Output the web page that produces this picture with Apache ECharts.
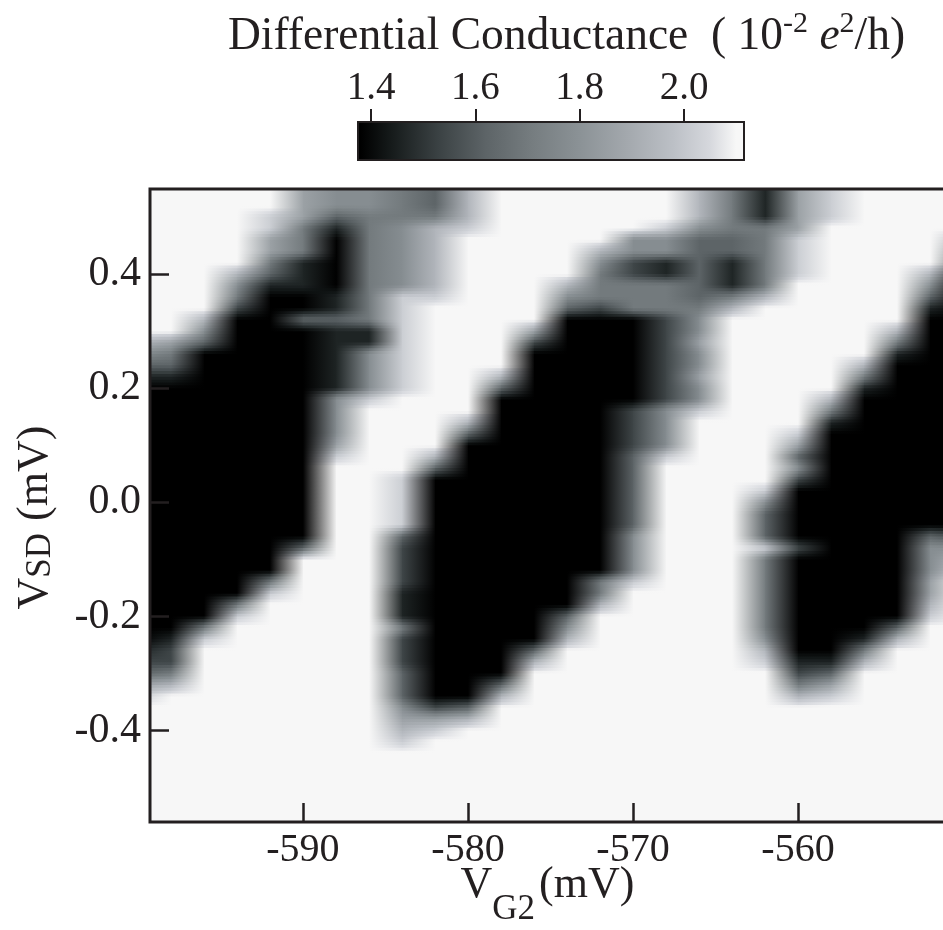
<!DOCTYPE html>
<html>
<head>
<meta charset="utf-8">
<script src="https://cdn.jsdelivr.net/npm/echarts@6/dist/echarts.min.js"></script>
<style>
html,body{margin:0;padding:0;background:#ffffff;}
#chart{width:943px;height:930px;}
</style>
</head>
<body>
<div id="chart"></div>
<script>
// ---- data ----
// gate voltage V_G2 (mV) of each measured column
const vgColumns = [-600,-598,-596,-594,-592,-590,-588,-586,-584,-582,-580,-578,-576,
                   -574,-572,-570,-568,-566,-564,-562,-560,-558,-556,-554,-552,-550];
// source-drain bias V_SD (mV) of each row, top to bottom
const vsdRows = [0.54,0.52,0.50,0.48,0.46,0.44,0.42,0.40,0.38,0.36,0.34,0.32,0.30,0.28,
                 0.26,0.24,0.22,0.20,0.18,0.16,0.14,0.12,0.10,0.08,0.06,0.04,0.02,0.00,
                 -0.02,-0.04,-0.06,-0.08,-0.10,-0.12,-0.14,-0.16,-0.18,-0.20,-0.22,-0.24,-0.26,-0.28,
                 -0.30,-0.32,-0.34,-0.36,-0.38,-0.40,-0.42,-0.44,-0.46,-0.48,-0.50,-0.52,-0.54,-0.56];
// conductance (10^-2 e^2/h) of each level digit 0..9
const levelValues = [1.38,1.46,1.54,1.62,1.70,1.78,1.86,1.94,2.02,2.11];
// one string per column (same order as vgColumns), one digit per row (same order as vsdRows)
const levelColumns = [
  "9999999999 9997531000 0000000000 0000000000 1236899999 999999", // -600
  "9999999999 9996431000 0000000000 0000000001 2247999999 999999", // -598
  "9999999999 9753000000 0000000000 0000000048 9999999999 999999", // -596
  "9999999754 2000000000 0000000000 0000004899 9999999999 999999", // -594
  "9988664310 0000000000 0000000000 0000489999 9999999999 999999", // -592
  "6664441110 0300000000 0000000000 0399999999 9999999999 999999", // -590
  "5531000001 1311111155 5568999999 9999999999 9999999999 999999", // -588
  "5544444444 4411555589 9999999999 9999999999 9999999999 999999", // -586
  "4445555558 8888888899 9999988888 3222211142 2233356789 999999", // -584
  "3347777778 9999999999 9997300000 0000000000 0000026899 999999", // -582
  "7778999999 9999999999 7300000000 0000000000 0000037999 999999", // -580
  "9999999999 9999997300 0000000000 0000000000 0003799999 999999", // -578
  "9999999999 9962000000 0000000000 0000000000 3799999999 999999", // -576
  "9999999975 3000000000 0000000000 0000000357 9999999999 999999", // -574
  "9999975444 2000000000 0000000000 0000447999 9999999999 999999", // -572
  "9999552244 4000000002 2223333333 5555899999 9999999999 999999", // -570
  "9998551144 4222222225 5558999999 9999999999 9999999999 999999", // -568
  "7775333333 4556556558 9999999999 9999999999 9999999999 999999", // -566
  "4444331114 7999999999 9999999999 9999999999 9999999999 999999", // -564
  "1114444447 9999999999 9999998533 3844444445 7899999999 999999", // -562
  "6666888899 9999999999 9863520000 0200000000 0124799999 999999", // -560
  "8889999999 9999999974 1000000000 0000000000 0136899999 999999", // -558
  "9999999999 9999974100 0000000000 0000000001 4799999999 999999", // -556
  "9999999999 9974100000 0000000000 0000000037 9999999999 999999", // -554
  "9999999753 1000000000 0000000000 3555667899 9999999999 999999", // -552
  "9999753100 0000000000 0000000000 2578999999 9999999999 999999"  // -550
];
const xTicks = [-590,-580,-570,-560];
const yTicks = [-0.4,-0.2,0.0,0.2,0.4];
const colorbarTicks = [1.4,1.6,1.8,2.0];
const colorbarRange = [1.375, 2.115];
// colour scale
const paletteValues = [1.38,1.44,1.53,1.62,1.71,1.80,1.89,1.98,2.05,2.10];
const paletteColors = ['#000000','#161b1b','#3b4244','#5d6467','#767d80','#8b9296','#a3a8ad','#bcc0c6','#d6d8dd','#f7f7f7'];

// ---- build ----
const FONT = "'Liberation Serif','Times New Roman',serif";
const INK = '#231f20';

function colorOf(g) {
  if (g <= paletteValues[0]) return paletteColors[0];
  for (let k = 1; k < paletteValues.length; k++) {
    if (g <= paletteValues[k]) {
      const t = (g - paletteValues[k-1]) / (paletteValues[k] - paletteValues[k-1]);
      return echarts.color.lerp(t, [paletteColors[k-1], paletteColors[k]]);
    }
  }
  return paletteColors[paletteColors.length - 1];
}

const G = levelColumns.map(s => s.replace(/ /g, '').split('').map(ch => levelValues[+ch]));
const nR = vsdRows.length;
const rowHalf = Math.abs(vsdRows[0] - vsdRows[1]) / 2;
// each cell: [x_left, x_right, vsd, G(left), G(right), G(left,above), G(right,above), G(left,below), G(right,below)]
const cells = [];
for (let c = 0; c < vgColumns.length - 1; c++) {
  for (let r = 0; r < nR; r++) {
    const ru = Math.max(r - 1, 0), rd = Math.min(r + 1, nR - 1);
    cells.push([vgColumns[c], vgColumns[c+1], vsdRows[r],
                G[c][r], G[c+1][r], G[c][ru], G[c+1][ru], G[c][rd], G[c+1][rd]]);
  }
}
const SUB = 4; // display smoothing strips per cell (like the reference's image interpolation)

const chart = echarts.init(document.getElementById('chart'), null, {renderer: 'canvas', width: 943, height: 930});

const rb = {fontFamily: FONT, color: INK, fontWeight: 'normal'};
const R = o => Object.assign({}, rb, o);
const option = {
  backgroundColor: '#ffffff',
  animation: false,
  title: {
    left: 228, top: 15, padding: 0,
    text: '{t|Differential Conductance  ( 10}{p|-2}{t| }{e|e}{p|2}{t|/h)}',
    textStyle: {
      fontWeight: 'normal',
      rich: {
        t: R({fontSize: 45.5, lineHeight: 45}),
        e: R({fontSize: 45.5, lineHeight: 45, fontStyle: 'italic'}),
        p: R({fontSize: 30, lineHeight: 45, padding: [0, 0, 26, 0]})
      }
    }
  },
  grid: [
    {left: 150, top: 189, width: 795, height: 633, show: true, z: 10, outerBoundsMode: 'none', containLabel: false,
     backgroundColor: 'rgba(0,0,0,0)', borderColor: INK, borderWidth: 3},
    {left: 358, top: 122, width: 386, height: 38, show: true, z: 10, outerBoundsMode: 'none', containLabel: false,
     backgroundColor: 'rgba(0,0,0,0)', borderColor: INK, borderWidth: 2}
  ],
  xAxis: [
    {
      gridIndex: 0, type: 'value', position: 'bottom', min: -599.27, max: -551.09, z: 11,
      axisLine: {show: false, onZero: false},
      axisTick: {show: true, inside: true, length: 19, customValues: xTicks, lineStyle: {color: INK, width: 2.5}},
      axisLabel: {customValues: xTicks, fontSize: 40, margin: 8, color: INK, fontFamily: FONT},
      splitLine: {show: false},
      name: '{v|V}{s|G2}{u|(mV)}',
      nameLocation: 'middle', nameGap: 41, nameMoveOverlap: false,
      nameTextStyle: {
        rich: {
          v: R({fontSize: 44, lineHeight: 44}),
          s: R({fontSize: 35, lineHeight: 44, padding: [50, 0, 0, 0]}),
          u: R({fontSize: 44, lineHeight: 44, padding: [0, 0, 0, 4]})
        }
      }
    },
    {
      gridIndex: 1, type: 'value', position: 'top', min: colorbarRange[0], max: colorbarRange[1], z: 11,
      axisLine: {show: false, onZero: false},
      axisTick: {show: true, inside: false, length: 13, customValues: colorbarTicks, lineStyle: {color: INK, width: 2}},
      axisLabel: {customValues: colorbarTicks, formatter: v => v.toFixed(1), fontSize: 39, margin: 14, color: INK, fontFamily: FONT},
      splitLine: {show: false}
    }
  ],
  yAxis: [
    {
      gridIndex: 0, type: 'value', position: 'left', min: -0.56, max: 0.549, z: 11,
      axisLine: {show: false, onZero: false},
      axisTick: {show: true, inside: true, length: 19, customValues: yTicks, lineStyle: {color: INK, width: 2.5}},
      axisLabel: {customValues: yTicks, formatter: v => v.toFixed(1), fontSize: 42, margin: 9, color: INK, fontFamily: FONT},
      splitLine: {show: false},
      name: '{v|V}{s|SD}{u|(mV)}',
      nameLocation: 'middle', nameGap: 93, nameMoveOverlap: false,
      nameTextStyle: {
        rich: {
          v: R({fontSize: 44, lineHeight: 44}),
          s: R({fontSize: 35, lineHeight: 44, padding: [12, 0, 0, 0]}),
          u: R({fontSize: 44, lineHeight: 44, padding: [0, 24, 0, 12]})
        }
      }
    },
    {gridIndex: 1, type: 'value', min: 0, max: 1, show: false, axisLine: {onZero: false}}
  ],
  series: [
    {
      type: 'custom', xAxisIndex: 0, yAxisIndex: 0, clip: true, silent: true, z: 2,
      encode: {x: [0, 1], y: 2},
      data: cells,
      renderItem: function (params, api) {
        const v = api.value(2);
        const p0 = api.coord([api.value(0), v + rowHalf]);
        const p1 = api.coord([api.value(1), v - rowHalf]);
        const w = p1[0] - p0[0], h = p1[1] - p0[1];
        const gL = api.value(3), gR = api.value(4);
        const gLu = api.value(5), gRu = api.value(6), gLd = api.value(7), gRd = api.value(8);
        const children = [];
        for (let k = 0; k < SUB; k++) {
          const f = (k + 0.5) / SUB;
          let a, b;
          if (f < 0.5) { const t = 0.5 - f; a = gL * (1 - t) + gLu * t; b = gR * (1 - t) + gRu * t; }
          else { const t = f - 0.5; a = gL * (1 - t) + gLd * t; b = gR * (1 - t) + gRd * t; }
          children.push({
            type: 'rect',
            shape: {x: p0[0], y: p0[1] + h * k / SUB, width: w + 1, height: h / SUB + 1},
            style: {
              fill: new echarts.graphic.LinearGradient(0, 0, 1, 0, [
                {offset: 0, color: colorOf(a)},
                {offset: 1, color: colorOf(b)}
              ])
            }
          });
        }
        return {type: 'group', children: children};
      }
    },
    {
      type: 'custom', xAxisIndex: 1, yAxisIndex: 1, clip: true, silent: true, z: 2,
      encode: {x: [0, 1], y: [2, 3]},
      data: [[colorbarRange[0], colorbarRange[1], 0, 1]],
      renderItem: function (params, api) {
        const lo = api.value(0), hi = api.value(1);
        const p0 = api.coord([lo, api.value(3)]);
        const p1 = api.coord([hi, api.value(2)]);
        const stops = [{offset: 0, color: colorOf(lo)}];
        paletteValues.forEach(pv => {
          if (pv > lo && pv < hi) stops.push({offset: (pv - lo) / (hi - lo), color: colorOf(pv)});
        });
        stops.push({offset: 1, color: colorOf(hi)});
        return {
          type: 'rect',
          shape: {x: p0[0], y: p0[1], width: p1[0] - p0[0], height: p1[1] - p0[1]},
          style: {fill: new echarts.graphic.LinearGradient(0, 0, 1, 0, stops)}
        };
      }
    }
  ]
};
chart.setOption(option);
</script>
</body>
</html>
